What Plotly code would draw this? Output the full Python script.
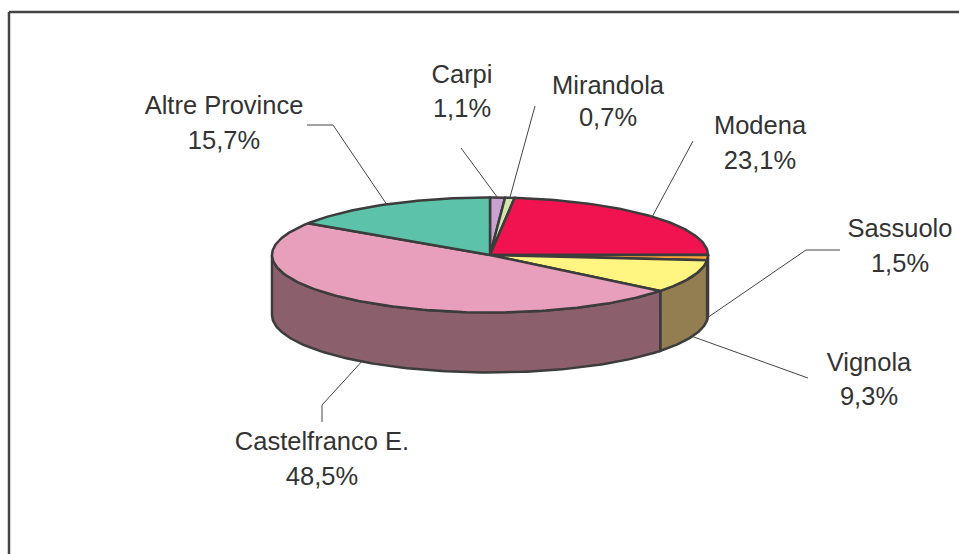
import numpy as np
import plotly.graph_objects as go

categories = ["Carpi", "Mirandola", "Modena", "Sassuolo", "Vignola", "Castelfranco E.", "Altre Province"]
values = [1.1, 0.7, 23.1, 1.5, 9.3, 48.5, 15.7]
top_colors = ["#C9A3CF", "#D0E6AC", "#F0134F", "#FFA43A", "#FFF580", "#E79FBC", "#5CC2AA"]
side_colors = ["#7F6583", "#84916C", "#971032", "#3C3C3C", "#937E52", "#8C5F6C", "#3A7A6B"]

# label layout (pixels): name y, percent y, centre x
label_x = [462, 608, 760, 900, 869, 322, 224]
name_y = [77, 88, 128, 231, 365, 444, 108]
pct_y = [111, 120, 163, 266, 399, 479, 143]
# leader-line elbows / starts (pixels)
leaders = [
    [(461, 148)],
    [(535, 106)],
    [(693, 141)],
    [(840, 250), (806, 250)],
    [(808, 378)],
    [(322, 422), (322, 405)],
    [(307, 125), (333, 125)],
]

CX, CY, RX, RY, DEPTH = 490, 255, 218, 57.5, 60
EDGE = "#3C3C3C"


def ell(t, dy=0.0):
    return CX + RX * np.sin(t), CY - RY * np.cos(t) + dy


fig = go.Figure()
total = sum(values)
ends = np.cumsum(values) / total * 2 * np.pi
starts = np.r_[0, ends[:-1]]

# side walls (visible only on the front half of the disc)
for a, b, col in zip(starts, ends, side_colors):
    lo, hi = max(a, np.pi / 2), min(b, 3 * np.pi / 2)
    if hi <= lo:
        continue
    t = np.linspace(lo, hi, 120)
    x1, y1 = ell(t)
    x2, y2 = ell(t[::-1], DEPTH)
    fig.add_trace(go.Scatter(x=np.r_[x1, x2, x1[0]], y=np.r_[y1, y2, y1[0]], mode="lines",
                             fill="toself", fillcolor=col, line=dict(color=EDGE, width=2.5),
                             hoverinfo="skip", showlegend=False))

# top faces
for a, b, col, name, v in zip(starts, ends, top_colors, categories, values):
    t = np.linspace(a, b, max(8, int((b - a) * 60)))
    x, y = ell(t)
    fig.add_trace(go.Scatter(x=np.r_[CX, x, CX], y=np.r_[CY, y, CY], mode="lines",
                             fill="toself", fillcolor=col, line=dict(color=EDGE, width=2.5),
                             name=name, text=f"{name}: {v}%", hoverinfo="text", showlegend=False))

# leader lines
for i, (a, b) in enumerate(zip(starts, ends)):
    m = (a + b) / 2
    px, py = ell(m, DEPTH if np.pi / 2 < m < 3 * np.pi / 2 else 0)
    pts = leaders[i] + [(px, py)]
    fig.add_trace(go.Scatter(x=[p[0] for p in pts], y=[p[1] for p in pts], mode="lines",
                             line=dict(color="#444444", width=1), hoverinfo="skip", showlegend=False))

# labels
font = dict(family="Liberation Sans, Arial, sans-serif", size=25.5, color="#333333")
fig.add_trace(go.Scatter(x=label_x, y=name_y, mode="text", text=categories, textfont=font,
                         textposition="middle center", hoverinfo="skip", showlegend=False))
fig.add_trace(go.Scatter(x=label_x, y=pct_y, mode="text",
                         text=[f"{v:.1f}%".replace(".", ",") for v in values], textfont=font,
                         textposition="middle center", hoverinfo="skip", showlegend=False))

fig.update_layout(
    width=959, height=554, margin=dict(l=0, r=0, t=0, b=0),
    paper_bgcolor="white", plot_bgcolor="white",
    xaxis=dict(range=[0, 959], visible=False, fixedrange=True),
    yaxis=dict(range=[554, 0], visible=False, fixedrange=True),
    shapes=[
        dict(type="line", xref="x", yref="y", x0=9, x1=959, y0=12, y1=12, line=dict(color="#444444", width=2.5)),
        dict(type="line", xref="x", yref="y", x0=9, x1=9, y0=12, y1=554, line=dict(color="#444444", width=2.5)),
    ],
)
fig.write_html("out.html", config={"displayModeBar": False},
               post_script="document.body.style.margin='0';document.body.style.overflow='hidden';")
